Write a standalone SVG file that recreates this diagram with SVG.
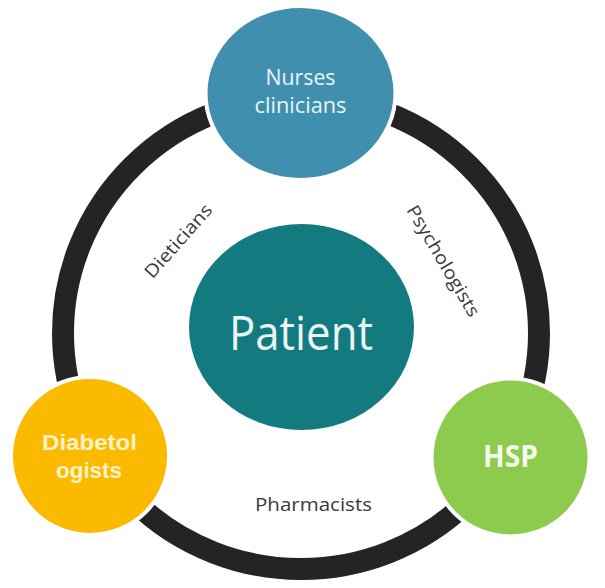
<svg xmlns="http://www.w3.org/2000/svg" width="605" height="588" viewBox="0 0 605 588">
  <style>
    .node { stroke: #ffffff; stroke-width: 4; }
    .lbl { font-family: "Open Sans", "Noto Sans", sans-serif; font-size: 18px; fill: #3a3a3a; text-anchor: middle; }
    .ntxt { font-family: "Open Sans", "Noto Sans", sans-serif; text-anchor: middle; }
    .btxt { font-family: "Liberation Sans", Arial, sans-serif; font-weight: bold; text-anchor: middle; }
  </style>
  <rect width="605" height="588" fill="#ffffff"/>
  <g id="connectors">
    <ellipse cx="301" cy="333" rx="238" ry="236" fill="none" stroke="#242424" stroke-width="22"/>
  </g>
  <g id="labels">
    <text class="lbl" transform="translate(183,245) rotate(-48.5)" textLength="92" lengthAdjust="spacingAndGlyphs">Dieticians</text>
    <text class="lbl" transform="translate(438,264) rotate(59.6)" textLength="126" lengthAdjust="spacingAndGlyphs">Psychologists</text>
    <text class="lbl" x="313.5" y="511" textLength="117" lengthAdjust="spacingAndGlyphs">Pharmacists</text>
  </g>
  <g id="patient">
    <ellipse cx="301.5" cy="327" rx="112.5" ry="103" fill="#137B80"/>
    <text class="ntxt" x="301" y="350" font-size="48" fill="#EAF5F5" textLength="144" lengthAdjust="spacingAndGlyphs">Patient</text>
  </g>
  <g id="nurses">
    <ellipse class="node" cx="300.5" cy="93" rx="95" ry="87" fill="#418FAE"/>
    <text class="ntxt" x="300.5" y="85" font-size="21" fill="#E8F6FA" textLength="70" lengthAdjust="spacingAndGlyphs">Nurses</text>
    <text class="ntxt" x="300.5" y="113" font-size="21" fill="#E8F6FA" textLength="92" lengthAdjust="spacingAndGlyphs">clinicians</text>
  </g>
  <g id="diabetologists">
    <circle class="node" cx="90" cy="456" r="79" fill="#FBBA00"/>
    <text class="btxt" x="89.5" y="450" font-size="22" fill="#FDF3C6" textLength="95" lengthAdjust="spacingAndGlyphs">Diabetol</text>
    <text class="btxt" x="89" y="478" font-size="22" fill="#FDF3C6" textLength="66" lengthAdjust="spacingAndGlyphs">ogists</text>
  </g>
  <g id="hsp">
    <circle class="node" cx="510.5" cy="457.5" r="79" fill="#8DCB4E"/>
    <text class="ntxt" x="510.5" y="467" font-size="30" font-weight="bold" fill="#F4FAEE" textLength="55" lengthAdjust="spacingAndGlyphs">HSP</text>
  </g>
</svg>
